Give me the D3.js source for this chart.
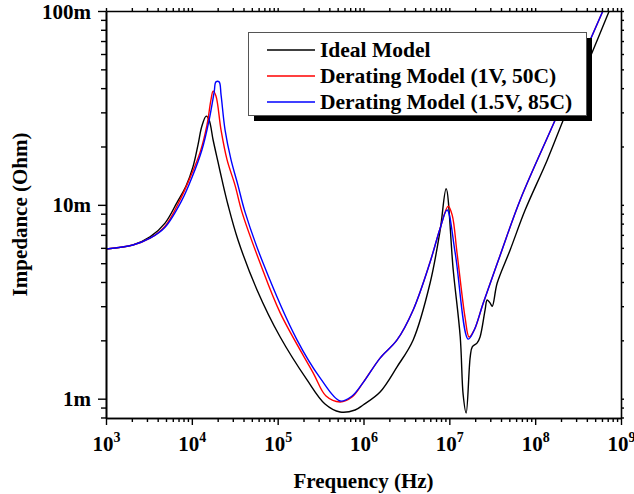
<!DOCTYPE html>
<html>
<head>
<meta charset="utf-8">
<script src="https://cdn.jsdelivr.net/npm/d3@7"></script>
<style>
  body { margin: 0; background: #fff; }
  text { font-family: "Liberation Serif", "Times New Roman", serif; font-weight: bold; fill: #000; }
</style>
</head>
<body>
<svg id="chart" width="634" height="494"></svg>
<script>
// frequency in Hz, impedance in Ohm
const freqIdeal = [1000, 2065, 3260, 4875, 6730, 8560, 10300, 11800, 13100, 14700, 15900, 17700, 20200, 22500, 26400,
  34500, 57500, 107000, 220000, 356000, 533000, 798000, 989000, 1.56e6, 2.46e6, 3.79e6, 5.97e6, 7.82e6, 9.18e6,
  1.11e7, 1.34e7, 1.45e7, 1.57e7, 1.75e7, 1.85e7, 2.11e7, 2.28e7, 2.61e7, 2.76e7, 2.99e7, 3.16e7, 3.61e7, 5.11e7,
  7.64e7, 1.38e8, 2.24e8, 4.38e8, 7.49e8];
const zIdeal = [5.92e-3, 6.21e-3, 6.83e-3, 8.05e-3, 10.3e-3, 12.5e-3, 15.7e-3, 20.4e-3, 25.5e-3, 28.7e-3, 27.4e-3, 21.6e-3, 16.6e-3, 13.4e-3, 9.98e-3,
  6.59e-3, 3.64e-3, 2.08e-3, 1.25e-3, 0.939e-3, 0.854e-3, 0.874e-3, 0.928e-3, 1.083e-3, 1.46e-3, 2.01e-3, 3.95e-3, 7.40e-3, 12.1e-3,
  4.61e-3, 2.08e-3, 1.045e-3, 0.844e-3, 1.64e-3, 1.85e-3, 1.94e-3, 2.08e-3, 2.87e-3, 3.23e-3, 3.11e-3, 3.00e-3, 3.95e-3, 5.85e-3,
  9.40e-3, 17.0e-3, 29.0e-3, 57.9e-3, 103e-3];

const freqDer1 = [1000, 2065, 3260, 4875, 7280, 9530, 12500, 15000, 16700, 17700, 19100, 21900, 25700, 31900, 38400,
  62400, 107000, 259000, 366000, 533000, 736000, 989000, 1.56e6, 2.46e6, 3.79e6, 5.97e6, 7.82e6, 9.69e6, 1.08e7, 1.23e7, 1.53e7,
  1.70e7, 1.95e7, 2.48e7, 3.91e7, 6.69e7, 1.71e8, 6.21e8];
const zDer1 = [5.92e-3, 6.21e-3, 6.73e-3, 7.76e-3, 10.6e-3, 13.8e-3, 18.7e-3, 25.8e-3, 34.8e-3, 38.6e-3, 36.4e-3, 24.3e-3, 17.1e-3, 12.6e-3, 9.17e-3,
  5.01e-3, 2.77e-3, 1.36e-3, 1.032e-3, 0.962e-3, 1.02e-3, 1.21e-3, 1.62e-3, 2.01e-3, 2.87e-3, 5.07e-3, 7.58e-3, 9.84e-3, 8.85e-3, 5.64e-3, 2.60e-3,
  2.08e-3, 2.26e-3, 3.11e-3, 5.50e-3, 10.6e-3, 27.4e-3, 101e-3];

const freqDer2 = [1000, 2065, 3260, 4875, 7690, 10000, 13100, 15900, 18200, 19100, 20800, 21900, 24400, 28600, 34500,
  41700, 67600, 168000, 312000, 533000, 736000, 989000, 1.56e6, 2.46e6, 3.79e6, 5.97e6, 7.82e6, 9.42e6, 1.17e7, 1.66e7,
  1.95e7, 2.48e7, 3.91e7, 6.69e7, 1.71e8, 6.21e8];
const zDer2 = [5.92e-3, 6.21e-3, 6.73e-3, 7.67e-3, 10.6e-3, 13.8e-3, 19.2e-3, 27.4e-3, 38.2e-3, 43.1e-3, 43.1e-3, 36.9e-3, 24.3e-3, 17.1e-3, 12.6e-3,
  9.17e-3, 5.01e-3, 2.01e-3, 1.28e-3, 0.973e-3, 1.032e-3, 1.21e-3, 1.62e-3, 2.01e-3, 2.87e-3, 5.07e-3, 7.58e-3, 9.40e-3, 5.65e-3, 2.03e-3,
  2.26e-3, 3.11e-3, 5.50e-3, 10.6e-3, 27.4e-3, 101e-3];

const seriesNames = ["Ideal Model", "Derating Model (1V, 50C)", "Derating Model (1.5V, 85C)"];
const seriesColors = ["#000000", "#ff0000", "#0000ff"];
const yTickLabels = ["1m", "10m", "100m"];

const svg = d3.select("#chart");
const plotLeft = 106, plotRight = 621, plotTop = 11, plotBottom = 418;

const x = d3.scaleLog().domain([1e3, 1e9]).range([plotLeft, plotRight]);
const y = d3.scaleLog().domain([0.795e-3, 0.1]).range([plotBottom, plotTop]);

const isMajor = v => Math.abs(Math.log10(v) - Math.round(Math.log10(v))) < 1e-6;
const xTicks = x.ticks();
const yTicks = y.ticks();

// clip
svg.append("clipPath").attr("id", "plot-clip")
  .append("rect").attr("x", plotLeft).attr("y", plotTop)
  .attr("width", plotRight - plotLeft).attr("height", plotBottom - plotTop);

// curves
const line = d3.line()
  .x(d => x(d[0]))
  .y(d => y(d[1]))
  .curve(d3.curveCatmullRom.alpha(0.5));

const series = [
  d3.zip(freqIdeal, zIdeal),
  d3.zip(freqDer1, zDer1),
  d3.zip(freqDer2, zDer2)
];

const curves = svg.append("g").attr("clip-path", "url(#plot-clip)");
series.forEach((s, i) => {
  curves.append("path")
    .datum(s)
    .attr("fill", "none")
    .attr("stroke", seriesColors[i])
    .attr("stroke-width", 1.4)
    .attr("d", line);
});

// axes
function styleAxis(g) {
  g.selectAll("path.domain").attr("stroke", "#000").attr("stroke-width", 1.6);
  g.selectAll(".tick line").attr("stroke", "#000").attr("stroke-width", 1.4);
}

// bottom
const xMinor = svg.append("g").attr("transform", `translate(0,${plotBottom})`)
  .call(d3.axisBottom(x).tickValues(xTicks.filter(v => !isMajor(v))).tickSize(4).tickSizeOuter(0).tickFormat(""));
styleAxis(xMinor);
const xMajor = svg.append("g").attr("transform", `translate(0,${plotBottom})`)
  .call(d3.axisBottom(x).tickValues(xTicks.filter(isMajor)).tickSize(7).tickSizeOuter(0).tickFormat(""));
styleAxis(xMajor);
xMajor.attr("font-family", null).attr("font-size", null);
xMajor.selectAll(".tick").append("text")
  .attr("y", 33)
  .attr("text-anchor", "middle")
  .attr("font-size", 21)
  .each(function(d) {
    const t = d3.select(this);
    t.append("tspan").text("10");
    t.append("tspan").attr("font-size", 14).attr("dy", -9).text(Math.round(Math.log10(d)));
  });

// left
const yMinor = svg.append("g").attr("transform", `translate(${plotLeft},0)`)
  .call(d3.axisLeft(y).tickValues(yTicks.filter(v => !isMajor(v))).tickSize(5).tickSizeOuter(0).tickFormat(""));
styleAxis(yMinor);
const yMajor = svg.append("g").attr("transform", `translate(${plotLeft},0)`)
  .call(d3.axisLeft(y).tickValues(yTicks.filter(isMajor)).tickSize(8).tickSizeOuter(0)
    .tickFormat((d, i) => yTickLabels[i]));
styleAxis(yMajor);
yMajor.attr("font-family", null).attr("font-size", null);
yMajor.selectAll(".tick text")
  .attr("x", -15)
  .attr("dy", "0.34em")
  .attr("font-size", 21);

// top and right (mirror, short ticks)
const xTop = svg.append("g").attr("transform", `translate(0,${plotTop})`)
  .call(d3.axisTop(x).tickValues(xTicks).tickSize(3).tickSizeOuter(0).tickFormat(""));
styleAxis(xTop);
const yRight = svg.append("g").attr("transform", `translate(${plotRight},0)`)
  .call(d3.axisRight(y).tickValues(yTicks).tickSize(3).tickSizeOuter(0).tickFormat(""));
styleAxis(yRight);

// axis titles
svg.append("text")
  .attr("x", (plotLeft + plotRight) / 2).attr("y", 488)
  .attr("text-anchor", "middle")
  .attr("font-size", 21)
  .text("Frequency (Hz)");

svg.append("text")
  .attr("transform", `translate(27,${(plotTop + plotBottom) / 2}) rotate(-90)`)
  .attr("text-anchor", "middle")
  .attr("font-size", 21)
  .text("Impedance (Ohm)");

// legend
const lg = svg.append("g");
lg.append("rect").attr("x", 254).attr("y", 38).attr("width", 338).attr("height", 83).attr("fill", "#000");
lg.append("rect").attr("x", 248.5).attr("y", 32.5).attr("width", 338).attr("height", 83)
  .attr("fill", "#fff").attr("stroke", "#555").attr("stroke-width", 1);
seriesNames.forEach((name, i) => {
  const cy = 50 + i * 26;
  lg.append("line").attr("x1", 267).attr("x2", 315).attr("y1", cy).attr("y2", cy)
    .attr("stroke", seriesColors[i]).attr("stroke-width", 1.4);
  lg.append("text").attr("x", 320).attr("y", cy + 7).attr("font-size", 21.5).text(name);
});
</script>
</body>
</html>
